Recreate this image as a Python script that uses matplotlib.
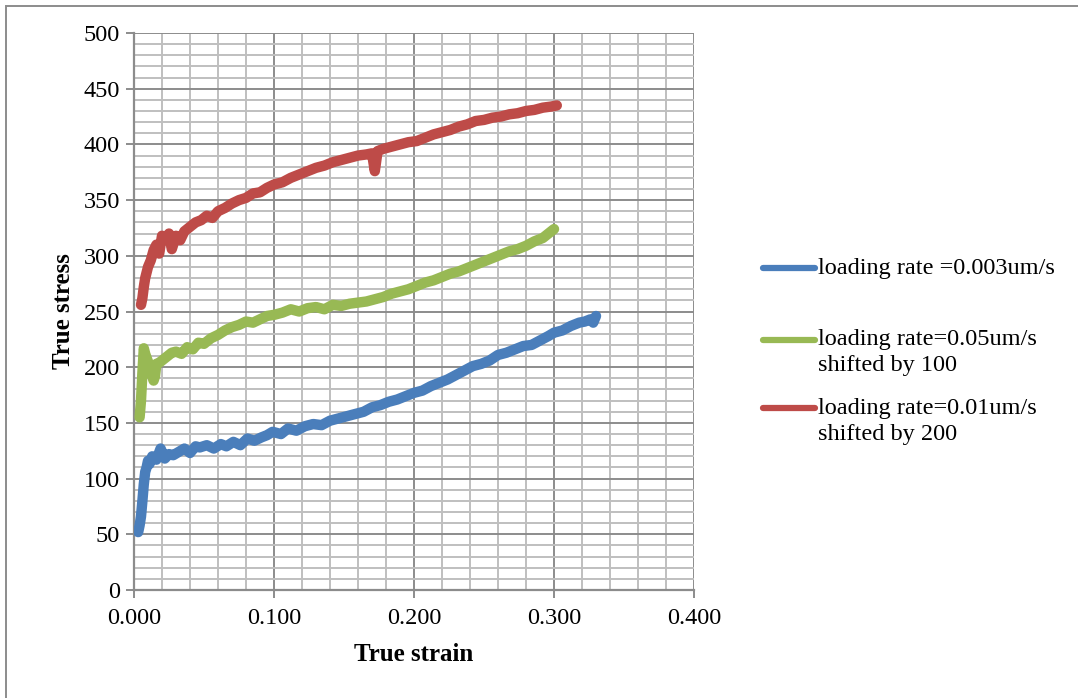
import matplotlib.pyplot as plt
from matplotlib.lines import Line2D
from matplotlib.patches import Rectangle
from matplotlib.ticker import MultipleLocator, FormatStrFormatter

plt.rcParams["font.family"] = ["Liberation Serif", "DejaVu Serif"]

# values (strain, stress)
blue_strain = [0.003, 0.004, 0.005, 0.006, 0.007, 0.008, 0.009, 0.010, 0.011,
               0.013, 0.016, 0.019, 0.022, 0.025, 0.028, 0.032, 0.036, 0.040,
               0.044, 0.047, 0.052, 0.057, 0.062, 0.066, 0.071, 0.076, 0.081,
               0.086, 0.091, 0.095, 0.099, 0.105, 0.110, 0.116, 0.122, 0.128,
               0.134, 0.140, 0.146, 0.152, 0.158, 0.164, 0.170, 0.176, 0.182,
               0.188, 0.194, 0.200, 0.206, 0.212, 0.218, 0.224, 0.230, 0.236,
               0.242, 0.248, 0.254, 0.260, 0.266, 0.272, 0.278, 0.284, 0.290,
               0.296, 0.300, 0.306, 0.312, 0.318, 0.322, 0.326, 0.328, 0.330]
blue_stress = [52, 58, 66, 80, 95, 106, 110, 116, 113,
               120, 117, 127, 118, 122, 121, 124, 127, 123,
               129, 128, 130, 127, 131, 129, 133, 130, 136,
               134, 137, 139, 142, 140, 145, 143, 147, 149,
               148, 152, 154, 156, 158, 160, 164, 166, 169,
               171, 174, 177, 179, 183, 186, 189, 193, 197,
               201, 203, 206, 211, 213, 216, 219, 220, 224,
               228, 231, 233, 237, 240, 241, 243, 240, 246]

green_strain = [0.004, 0.005, 0.006, 0.007, 0.008, 0.010, 0.012, 0.014, 0.015,
                0.016, 0.018, 0.021, 0.024, 0.027, 0.030, 0.034, 0.038, 0.042,
                0.046, 0.050, 0.055, 0.060, 0.065, 0.070, 0.075, 0.080, 0.085,
                0.090, 0.095, 0.100, 0.106, 0.112, 0.118, 0.124, 0.130, 0.136,
                0.142, 0.148, 0.154, 0.160, 0.166, 0.172, 0.178, 0.184, 0.190,
                0.196, 0.202, 0.208, 0.214, 0.220, 0.226, 0.232, 0.238, 0.244,
                0.250, 0.256, 0.262, 0.268, 0.274, 0.280, 0.286, 0.292, 0.296,
                0.300]
green_stress = [155, 170, 195, 217, 212, 205, 196, 188, 192,
                203, 204, 207, 210, 213, 214, 212, 218, 216,
                222, 221, 226, 229, 233, 236, 238, 241, 240,
                243, 246, 247, 249, 252, 250, 253, 254, 252,
                256, 255, 257, 258, 259, 261, 263, 266, 268,
                270, 273, 276, 278, 281, 284, 286, 289, 292,
                295, 298, 301, 304, 306, 309, 313, 316, 320,
                324]

red_strain = [0.005, 0.006, 0.007, 0.008, 0.010, 0.012, 0.014, 0.016, 0.018,
              0.020, 0.022, 0.025, 0.027, 0.030, 0.033, 0.036, 0.040, 0.044,
              0.048, 0.052, 0.056, 0.060, 0.065, 0.070, 0.075, 0.080, 0.085,
              0.090, 0.095, 0.100, 0.106, 0.112, 0.118, 0.124, 0.130, 0.136,
              0.142, 0.148, 0.154, 0.160, 0.166, 0.170, 0.172, 0.174, 0.178,
              0.184, 0.190, 0.196, 0.202, 0.208, 0.214, 0.220, 0.226, 0.232,
              0.238, 0.244, 0.250, 0.256, 0.262, 0.268, 0.274, 0.280, 0.286,
              0.292, 0.298, 0.302]
red_stress = [256, 262, 272, 280, 290, 296, 305, 310, 302,
              318, 315, 320, 306, 318, 314, 322, 326, 330,
              332, 336, 334, 340, 343, 347, 350, 352, 356,
              357, 361, 364, 366, 370, 373, 376, 379, 381,
              384, 386, 388, 390, 391, 392, 376, 394, 396,
              398, 400, 402, 403, 406, 409, 411, 413, 416,
              418, 421, 422, 424, 425, 427, 428, 430, 431,
              433, 434, 435]

labels = ["loading rate =0.003um/s",
          "loading rate=0.05um/s\nshifted by 100",
          "loading rate=0.01um/s\nshifted by 200"]
colors = ["#4a7ebb", "#98b954", "#be4b48"]

fig = plt.figure(figsize=(10.78, 6.98), dpi=100)
ax = fig.add_axes([0.1243, 0.1547, 0.5195, 0.7980])

series = [(blue_strain, blue_stress), (green_strain, green_stress),
          (red_strain, red_stress)]
for (xs, ys), c in zip(series, colors):
    ax.plot(xs, ys, color=c, lw=7.5, solid_capstyle="round",
            solid_joinstyle="round", zorder=3)

ax.set_xlim(0, 0.4)
ax.set_ylim(0, 500)
ax.xaxis.set_major_locator(MultipleLocator(0.1))
ax.xaxis.set_minor_locator(MultipleLocator(0.02))
ax.yaxis.set_major_locator(MultipleLocator(50))
ax.yaxis.set_minor_locator(MultipleLocator(10))
ax.xaxis.set_major_formatter(FormatStrFormatter("%.3f"))

ax.grid(which="minor", color="#bfbfbf", lw=1.4, zorder=1)
ax.grid(which="major", color="#8c8c8c", lw=1.4, zorder=2)
ax.set_axisbelow(True)
for side in ["top", "right"]:
    ax.spines[side].set_visible(False)
for side in ["left", "bottom"]:
    ax.spines[side].set_color("#8c8c8c")
    ax.spines[side].set_linewidth(1.6)

ax.tick_params(which="major", direction="out", length=6, width=1.4,
               color="#8c8c8c", labelsize=17.5, pad=4)
ax.tick_params(which="minor", length=0)
ax.tick_params(axis="x", pad=7)

ax.set_xlabel("True strain", fontsize=18, fontweight="bold", labelpad=10)
ax.set_ylabel("True stress", fontsize=18, fontweight="bold", labelpad=6)

# legend drawn to match the original layout (handle aligned to first line)
leg_y = [0.616, 0.513, 0.415]
for y, c, lab in zip(leg_y, colors, labels):
    fig.add_artist(Line2D([0.708, 0.756], [y, y], color=c, lw=4.5,
                          solid_capstyle="round", transform=fig.transFigure))
    fig.text(0.759, y + 0.015, lab, fontsize=17.5, va="top",
             ha="left", linespacing=1.3, transform=fig.transFigure)

# outer chart border (cut off on the right and bottom)
fig.add_artist(Rectangle((0.0055, -0.1), 1.2, 1.0914, fill=False,
                         edgecolor="#8c8c8c", lw=1.4,
                         transform=fig.transFigure))

fig.savefig("out.png", dpi=100)
